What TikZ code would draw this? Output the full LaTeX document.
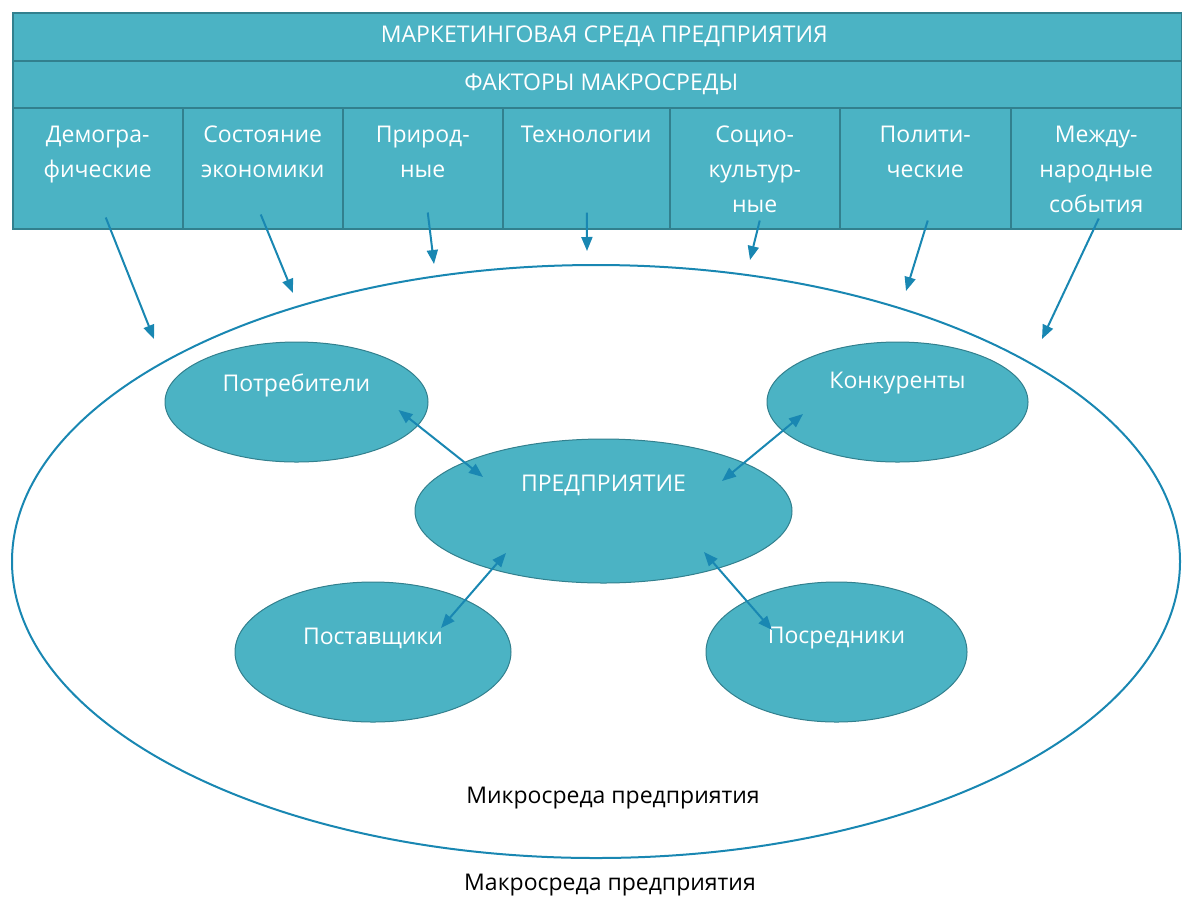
\documentclass[tikz,border=0pt]{standalone}
\usepackage{fontspec}
\setmainfont{Open Sans}
\usetikzlibrary{shapes.geometric,arrows.meta,calc}
\definecolor{tealfill}{RGB}{75,179,196}
\definecolor{tealline}{RGB}{50,128,142}
\definecolor{arrowblue}{RGB}{25,135,178}
\begin{document}
\begin{tikzpicture}[x=1pt,y=-1pt,
  bar/.style={draw=tealline, fill=tealfill, line width=1.5pt, text=white, font=\fontsize{23}{28}\selectfont, inner sep=0pt, anchor=north west},
  cell/.style={draw=tealline, fill=tealfill, line width=1.5pt, inner sep=0pt, anchor=north west, minimum height=121},
  celltext/.style={text=white, align=center, font=\fontsize{23}{35}\selectfont, anchor=north, inner sep=0pt},
  oval/.style={ellipse, draw=tealline, fill=tealfill, line width=1pt, inner sep=0pt},
  lbl/.style={text=white, font=\fontsize{23}{28}\selectfont, inner sep=0pt},
  plain/.style={text=black, font=\fontsize{23}{28}\selectfont, inner sep=0pt},
  macroarrow/.style={draw=arrowblue, line width=2pt, -{Triangle[length=14pt,width=11pt]}},
  dblarrow/.style={draw=arrowblue, line width=2pt, {Triangle[length=14pt,width=11pt]}-{Triangle[length=14pt,width=11pt]}}
]
\useasboundingbox (0,0) rectangle (1182,898);

% big ellipse (microenvironment)
\node[ellipse, draw=arrowblue, line width=2pt, minimum width=1168, minimum height=593, inner sep=0pt] (big) at (596,561.5) {};

% top bars
\node[bar, minimum width=1169, minimum height=48] (top) at (12,12) {\hspace{14pt}МАРКЕТИНГОВАЯ СРЕДА ПРЕДПРИЯТИЯ};
\node[bar, minimum width=1169, minimum height=47] (macro) at (12,60) {\hspace{8pt}ФАКТОРЫ МАКРОСРЕДЫ};

% factor cells
\node[cell, minimum width=170] (c1) at (12,107) {};
\node[cell, minimum width=160] (c2) at (182,107) {};
\node[cell, minimum width=160] (c3) at (342,107) {};
\node[cell, minimum width=167] (c4) at (502,107) {};
\node[cell, minimum width=170] (c5) at (669,107) {};
\node[cell, minimum width=171] (c6) at (839,107) {};
\node[cell, minimum width=171] (c7) at (1010,107) {};

\node[celltext] (t1) at ($(c1.north)+(0,19)$) {Демогра-\\фические};
\node[celltext] (t2) at ($(c2.north)+(0,19)$) {Состояние\\экономики};
\node[celltext] (t3) at ($(c3.north)+(0,19)$) {Природ-\\ные};
\node[celltext] (t4) at ($(c4.north)+(0,19)$) {Технологии};
\node[celltext] (t5) at ($(c5.north)+(0,19)$) {Социо-\\культур-\\ные};
\node[celltext] (t6) at ($(c6.north)+(0,19)$) {Полити-\\ческие};
\node[celltext] (t7) at ($(c7.north)+(0,19)$) {Между-\\народные\\события};

% inner ellipses
\node[oval, minimum width=263, minimum height=120, label={[lbl, yshift=17pt]center:Потребители}] (potr) at (296.5,402) {};
\node[oval, minimum width=261, minimum height=120, label={[lbl, yshift=19pt]center:Конкуренты}] (konk) at (897.5,402) {};
\node[oval, minimum width=377, minimum height=144, label={[lbl, yshift=26pt]center:ПРЕДПРИЯТИЕ}] (pred) at (603.5,511) {};
\node[oval, minimum width=276, minimum height=140, label={[lbl, yshift=14pt]center:Поставщики}] (post) at (373,652) {};
\node[oval, minimum width=261, minimum height=140, label={[lbl, yshift=14pt]center:Посредники}] (posr) at (836.5,652) {};

% labels
\node[plain] (micro) at (613,798) {Микросреда предприятия};
\node[plain] (macrolbl) at (610,885) {Макросреда предприятия};

% arrow end points near the big ellipse
\coordinate (e1) at (154,339);
\coordinate (e2) at (293,293);
\coordinate (e3) at (434,264);
\coordinate (e4) at (587,251);
\coordinate (e5) at (750,260);
\coordinate (e6) at (906,291);
\coordinate (e7) at (1042,339);

\draw[macroarrow] ([shift={(8,-12)}]c1.south) -- (e1);
\draw[macroarrow] ([shift={(-2,-15)}]c2.south) -- (e2);
\draw[macroarrow] ([shift={(5,-17)}]c3.south) -- (e3);
\draw[macroarrow] ([shift={(0.5,-17)}]c4.south) -- (e4);
\draw[macroarrow] ([shift={(5,-9)}]c5.south) -- (e5);
\draw[macroarrow] ([shift={(2.5,-9)}]c6.south) -- (e6);
\draw[macroarrow] ([shift={(2.5,-11)}]c7.south) -- (e7);

% double arrows
\draw[dblarrow] ([shift={(102,8)}]potr.center) -- ([shift={(-120.5,-34)}]pred.center);
\draw[dblarrow] ([shift={(-94.5,12)}]konk.center) -- ([shift={(118.5,-30)}]pred.center);
\draw[dblarrow] ([shift={(68,-24)}]post.center) -- ([shift={(-97.5,42)}]pred.center);
\draw[dblarrow] ([shift={(-64.5,-22)}]posr.center) -- ([shift={(100.5,41)}]pred.center);
\end{tikzpicture}
\end{document}
